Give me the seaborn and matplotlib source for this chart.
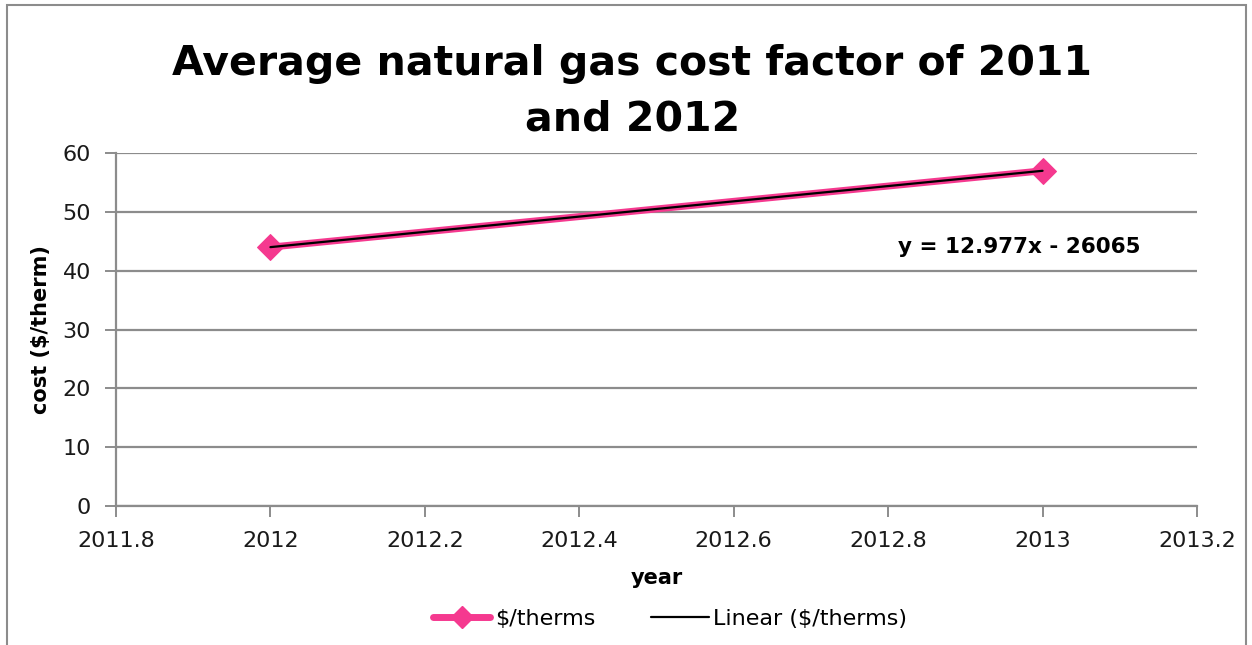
import numpy as np
import pandas as pd
import matplotlib
matplotlib.use("Agg")
import matplotlib.pyplot as plt
import seaborn as sns
from matplotlib.lines import Line2D
from matplotlib.patches import Rectangle

# Yearly average natural gas cost
years = [2012, 2013]
cost = [44.0, 56.977]
series_name = "$/therms"
trend_name = "Linear ($/therms)"
trend_label = "y = 12.977x - 26065"
x_ticks = [2011.8, 2012.0, 2012.2, 2012.4, 2012.6, 2012.8, 2013.0, 2013.2]
x_tick_labels = ["2011.8", "2012", "2012.2", "2012.4", "2012.6", "2012.8", "2013", "2013.2"]
y_ticks = [0, 10, 20, 30, 40, 50, 60]

df = pd.DataFrame({"year": years, "cost": cost})

sns.set_theme(style="white")
plt.rcParams["font.family"] = ["DejaVu Sans"]
plt.rcParams["text.color"] = "black"
plt.rcParams["axes.labelcolor"] = "black"

PINK = "#F5398F"
GRID = "#8C8C8C"

fig = plt.figure(figsize=(12.52, 6.45), dpi=100)
ax = fig.add_axes([116 / 1252, 139 / 645, (1197 - 116) / 1252, (506 - 153) / 645])

# outer chart frame
fig.patches.append(Rectangle((7 / 1252, -0.01), (1246 - 7) / 1252, (645 - 5) / 645 + 0.01,
                             transform=fig.transFigure, fill=False,
                             edgecolor="#8C8C8C", linewidth=1.5, zorder=0))

sns.lineplot(data=df, x="year", y="cost", ax=ax, color=PINK, linewidth=5,
             marker="D", markersize=13, markeredgecolor=PINK, zorder=3)

# least-squares trend line
slope, intercept = np.polyfit(years, cost, 1)
trend_x = np.array([years[0], years[-1]])
sns.lineplot(x=trend_x, y=slope * trend_x + intercept, ax=ax, color="black",
             linewidth=1.6, zorder=4)

ax.set_xlim(2011.8, 2013.2)
ax.set_ylim(0, 60)
ax.set_xticks(x_ticks)
ax.set_xticklabels(x_tick_labels)
ax.set_yticks(y_ticks)
ax.yaxis.grid(True, color=GRID, linewidth=1.6)
ax.xaxis.grid(False)
for side in ["top", "right"]:
    ax.spines[side].set_visible(False)
for side in ["left", "bottom"]:
    ax.spines[side].set_color(GRID)
    ax.spines[side].set_linewidth(1.6)
ax.tick_params(axis="both", which="major", direction="out", length=8, width=1.4,
               color=GRID, labelsize=16, labelcolor="#1a1a1a",
               bottom=True, left=True)
ax.tick_params(axis="x", pad=10)
ax.tick_params(axis="y", pad=10)

ax.set_xlabel("year", fontsize=15, fontweight="bold", labelpad=12)
ax.set_ylabel("cost ($/therm)", fontsize=15, fontweight="bold", labelpad=8)

fig.text(0.505, 0.858, "Average natural gas cost factor of 2011\nand 2012",
         ha="center", va="center", fontsize=29.5, fontweight="bold",
         linespacing=1.5)

ax.text(2012.97, 44.0, trend_label, ha="center", va="center",
        fontsize=15.5, fontweight="bold")

handles = [
    Line2D([0], [0], color=PINK, linewidth=5, marker="D", markersize=11,
           markeredgecolor=PINK),
    Line2D([0], [0], color="black", linewidth=1.6),
]
fig.legend(handles, [series_name, trend_name], loc="center",
           bbox_to_anchor=(0.535, 0.04), ncol=2, frameon=False, fontsize=16,
           handlelength=2.6, handletextpad=0.2, columnspacing=2.5)

fig.savefig("out.png", dpi=100)
